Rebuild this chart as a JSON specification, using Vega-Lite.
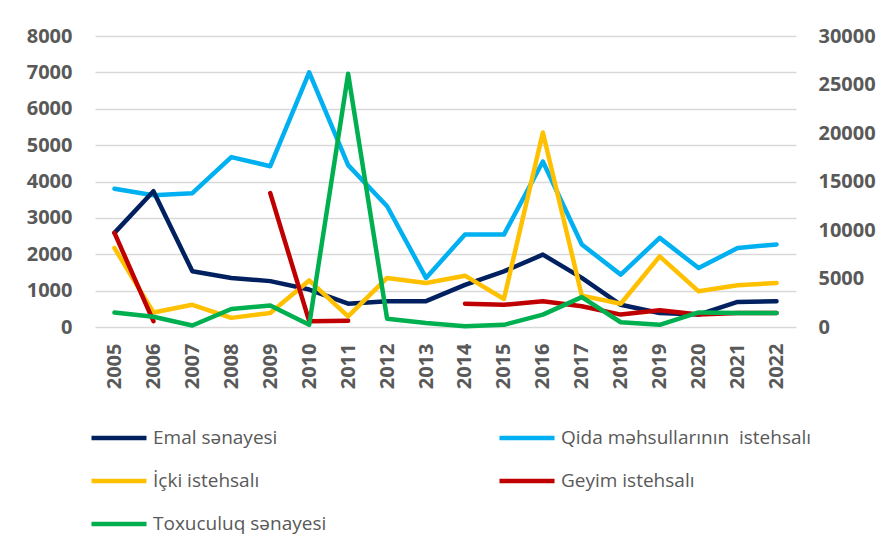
{
  "$schema": "https://vega.github.io/schema/vega-lite/v6.json",
  "width": 701,
  "height": 291,
  "autosize": {"type": "none"},
  "padding": {"left": 95, "top": 36, "right": 93, "bottom": 224},
  "background": "white",
  "config": {
    "view": {"stroke": null},
    "font": "Open Sans",
    "axis": {"labelColor": "#595959", "labelFont": "Open Sans", "labelFontWeight": "bold", "labelFontSize": 20, "title": null},
    "legend": {"labelFont": "Open Sans", "labelColor": "#595959", "labelFontSize": 19}
  },
  "datasets": {
    "left": [
      {"year": 2005, "series": "Qida məhsullarının  istehsalı", "value": 3800},
      {"year": 2006, "series": "Qida məhsullarının  istehsalı", "value": 3620},
      {"year": 2007, "series": "Qida məhsullarının  istehsalı", "value": 3680},
      {"year": 2008, "series": "Qida məhsullarının  istehsalı", "value": 4670},
      {"year": 2009, "series": "Qida məhsullarının  istehsalı", "value": 4420},
      {"year": 2010, "series": "Qida məhsullarının  istehsalı", "value": 7000},
      {"year": 2011, "series": "Qida məhsullarının  istehsalı", "value": 4450},
      {"year": 2012, "series": "Qida məhsullarının  istehsalı", "value": 3320},
      {"year": 2013, "series": "Qida məhsullarının  istehsalı", "value": 1350},
      {"year": 2014, "series": "Qida məhsullarının  istehsalı", "value": 2540},
      {"year": 2015, "series": "Qida məhsullarının  istehsalı", "value": 2540},
      {"year": 2016, "series": "Qida məhsullarının  istehsalı", "value": 4550},
      {"year": 2017, "series": "Qida məhsullarının  istehsalı", "value": 2270},
      {"year": 2018, "series": "Qida məhsullarının  istehsalı", "value": 1440},
      {"year": 2019, "series": "Qida məhsullarının  istehsalı", "value": 2450},
      {"year": 2020, "series": "Qida məhsullarının  istehsalı", "value": 1620},
      {"year": 2021, "series": "Qida məhsullarının  istehsalı", "value": 2170},
      {"year": 2022, "series": "Qida məhsullarının  istehsalı", "value": 2270}
    ],
    "right": [
      {"year": 2005, "series": "Emal sənayesi", "value": 9700},
      {"year": 2006, "series": "Emal sənayesi", "value": 14000},
      {"year": 2007, "series": "Emal sənayesi", "value": 5740},
      {"year": 2008, "series": "Emal sənayesi", "value": 5060},
      {"year": 2009, "series": "Emal sənayesi", "value": 4730},
      {"year": 2010, "series": "Emal sənayesi", "value": 3860},
      {"year": 2011, "series": "Emal sənayesi", "value": 2400},
      {"year": 2012, "series": "Emal sənayesi", "value": 2660},
      {"year": 2013, "series": "Emal sənayesi", "value": 2660},
      {"year": 2014, "series": "Emal sənayesi", "value": 4350},
      {"year": 2015, "series": "Emal sənayesi", "value": 5740},
      {"year": 2016, "series": "Emal sənayesi", "value": 7460},
      {"year": 2017, "series": "Emal sənayesi", "value": 5060},
      {"year": 2018, "series": "Emal sənayesi", "value": 2290},
      {"year": 2019, "series": "Emal sənayesi", "value": 1440},
      {"year": 2020, "series": "Emal sənayesi", "value": 1280},
      {"year": 2021, "series": "Emal sənayesi", "value": 2590},
      {"year": 2022, "series": "Emal sənayesi", "value": 2660},
      {"year": 2005, "series": "İçki istehsalı", "value": 8140},
      {"year": 2006, "series": "İçki istehsalı", "value": 1500},
      {"year": 2007, "series": "İçki istehsalı", "value": 2290},
      {"year": 2008, "series": "İçki istehsalı", "value": 940},
      {"year": 2009, "series": "İçki istehsalı", "value": 1440},
      {"year": 2010, "series": "İçki istehsalı", "value": 4800},
      {"year": 2011, "series": "İçki istehsalı", "value": 1090},
      {"year": 2012, "series": "İçki istehsalı", "value": 5060},
      {"year": 2013, "series": "İçki istehsalı", "value": 4540},
      {"year": 2014, "series": "İçki istehsalı", "value": 5290},
      {"year": 2015, "series": "İçki istehsalı", "value": 2890},
      {"year": 2016, "series": "İçki istehsalı", "value": 20060},
      {"year": 2017, "series": "İçki istehsalı", "value": 3230},
      {"year": 2018, "series": "İçki istehsalı", "value": 2400},
      {"year": 2019, "series": "İçki istehsalı", "value": 7280},
      {"year": 2020, "series": "İçki istehsalı", "value": 3680},
      {"year": 2021, "series": "İçki istehsalı", "value": 4310},
      {"year": 2022, "series": "İçki istehsalı", "value": 4540},
      {"year": 2005, "series": "Geyim istehsalı", "value": 9700},
      {"year": 2006, "series": "Geyim istehsalı", "value": 600},
      {"year": 2007, "series": "Geyim istehsalı", "value": null},
      {"year": 2008, "series": "Geyim istehsalı", "value": null},
      {"year": 2009, "series": "Geyim istehsalı", "value": 13800},
      {"year": 2010, "series": "Geyim istehsalı", "value": 600},
      {"year": 2011, "series": "Geyim istehsalı", "value": 640},
      {"year": 2012, "series": "Geyim istehsalı", "value": null},
      {"year": 2013, "series": "Geyim istehsalı", "value": null},
      {"year": 2014, "series": "Geyim istehsalı", "value": 2400},
      {"year": 2015, "series": "Geyim istehsalı", "value": 2290},
      {"year": 2016, "series": "Geyim istehsalı", "value": 2660},
      {"year": 2017, "series": "Geyim istehsalı", "value": 2140},
      {"year": 2018, "series": "Geyim istehsalı", "value": 1280},
      {"year": 2019, "series": "Geyim istehsalı", "value": 1720},
      {"year": 2020, "series": "Geyim istehsalı", "value": 1280},
      {"year": 2021, "series": "Geyim istehsalı", "value": 1440},
      {"year": 2022, "series": "Geyim istehsalı", "value": 1440},
      {"year": 2005, "series": "Toxuculuq sənayesi", "value": 1500},
      {"year": 2006, "series": "Toxuculuq sənayesi", "value": 1050},
      {"year": 2007, "series": "Toxuculuq sənayesi", "value": 150},
      {"year": 2008, "series": "Toxuculuq sənayesi", "value": 1860},
      {"year": 2009, "series": "Toxuculuq sənayesi", "value": 2210},
      {"year": 2010, "series": "Toxuculuq sənayesi", "value": 225},
      {"year": 2011, "series": "Toxuculuq sənayesi", "value": 26100},
      {"year": 2012, "series": "Toxuculuq sənayesi", "value": 860},
      {"year": 2013, "series": "Toxuculuq sənayesi", "value": 410},
      {"year": 2014, "series": "Toxuculuq sənayesi", "value": 75},
      {"year": 2015, "series": "Toxuculuq sənayesi", "value": 225},
      {"year": 2016, "series": "Toxuculuq sənayesi", "value": 1280},
      {"year": 2017, "series": "Toxuculuq sənayesi", "value": 3080},
      {"year": 2018, "series": "Toxuculuq sənayesi", "value": 490},
      {"year": 2019, "series": "Toxuculuq sənayesi", "value": 225},
      {"year": 2020, "series": "Toxuculuq sənayesi", "value": 1500},
      {"year": 2021, "series": "Toxuculuq sənayesi", "value": 1440},
      {"year": 2022, "series": "Toxuculuq sənayesi", "value": 1440}
    ]
  },
  "encoding": {
    "x": {
      "field": "year", "type": "ordinal",
      "scale": {"type": "point", "padding": 0.5},
      "axis": {"labelAngle": 270, "labelPadding": 16, "ticks": false, "domain": false, "grid": false}
    },
    "color": {
      "field": "series", "type": "nominal",
      "scale": {
        "domain": ["Emal sənayesi", "Qida məhsullarının  istehsalı", "İçki istehsalı", "Geyim istehsalı", "Toxuculuq sənayesi"],
        "range": ["#002060", "#00B0F0", "#FFC000", "#C00000", "#00B050"]
      },
      "legend": {
        "title": null,
        "orient": "none",
        "legendX": -6,
        "legendY": 372,
        "columns": 2,
        "direction": "horizontal",
        "symbolType": "stroke",
        "symbolSize": 3025,
        "symbolStrokeWidth": 4.5,
        "labelOffset": 4,
        "columnPadding": 163,
        "rowPadding": 3,
        "labelLimit": 400,
        "labelExpr": "replace(datum.label, '  ', ' \u00a0')"
      }
    }
  },
  "layer": [
    {
      "data": {"name": "left"},
      "mark": {"type": "line", "strokeWidth": 4.5, "strokeJoin": "round", "strokeCap": "round"},
      "encoding": {
        "y": {
          "field": "value", "type": "quantitative",
          "scale": {"domain": [0, 8000], "nice": false},
          "axis": {"orient": "left", "format": "d", "values": [0, 1000, 2000, 3000, 4000, 5000, 6000, 7000, 8000], "grid": true, "gridColor": "#d9d9d9", "gridWidth": 1.5, "domain": false, "ticks": false, "labelPadding": 23}
        }
      }
    },
    {
      "data": {"name": "right"},
      "mark": {"type": "line", "strokeWidth": 4.5, "strokeJoin": "round", "strokeCap": "round", "invalid": "break-paths-show-domains"},
      "encoding": {
        "y": {
          "field": "value", "type": "quantitative",
          "scale": {"domain": [0, 30000], "nice": false},
          "axis": {"orient": "right", "format": "d", "values": [0, 5000, 10000, 15000, 20000, 25000, 30000], "grid": false, "domain": false, "ticks": false, "labelPadding": 22}
        }
      }
    }
  ],
  "resolve": {"scale": {"y": "independent"}}
}
